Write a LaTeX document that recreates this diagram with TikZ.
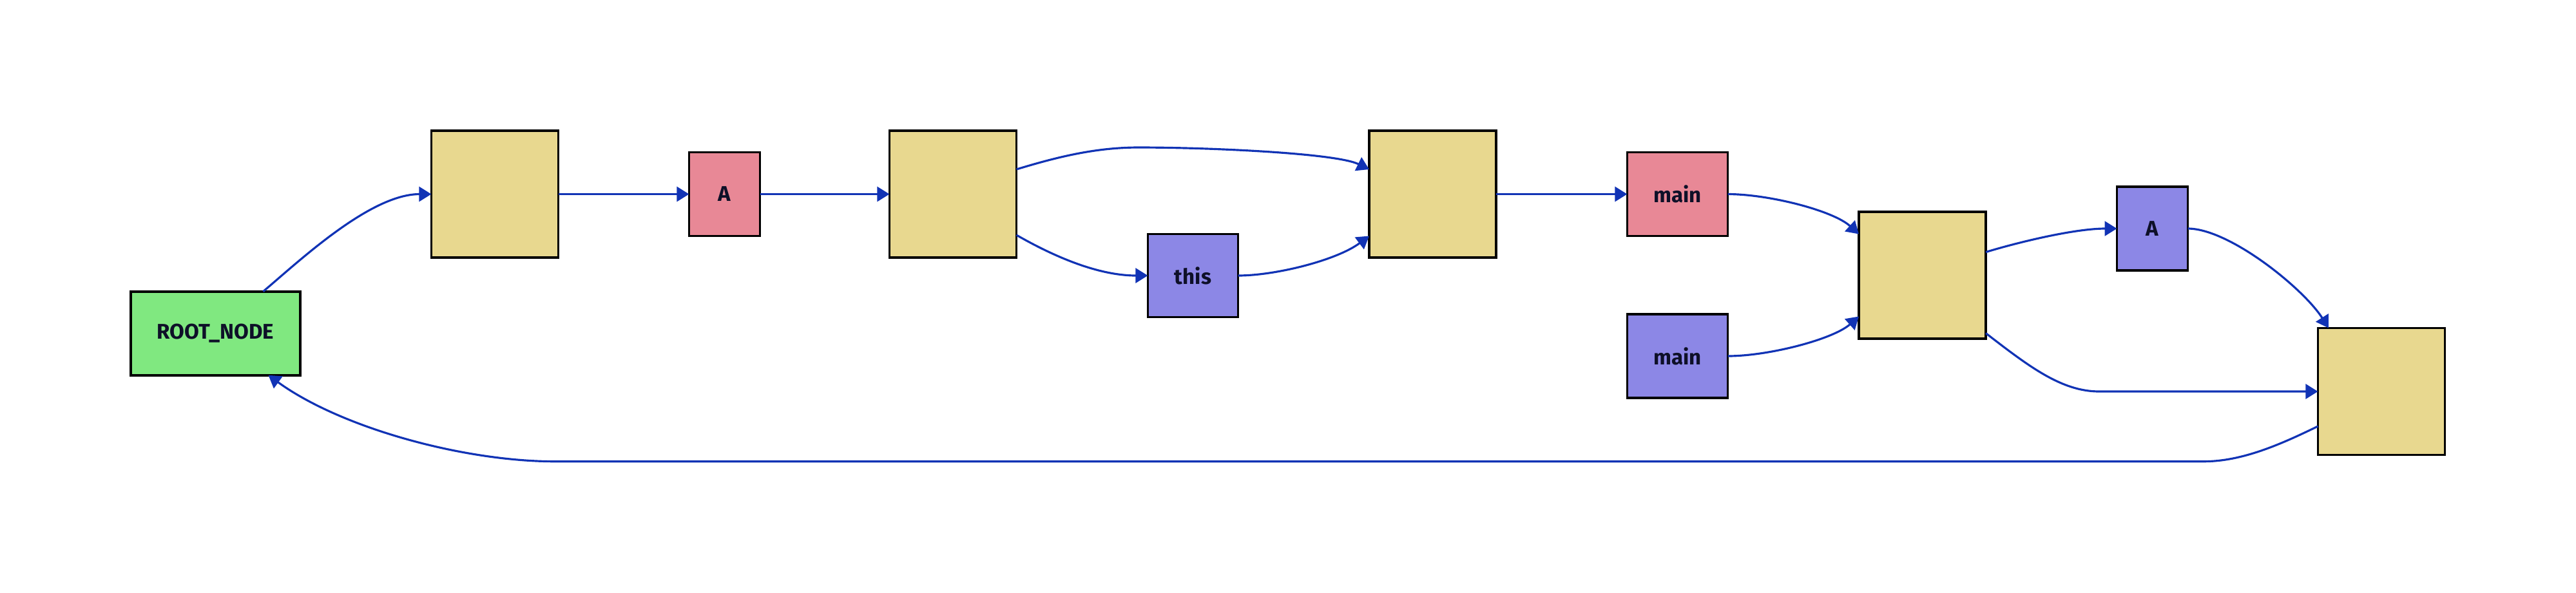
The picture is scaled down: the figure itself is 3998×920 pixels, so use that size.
\documentclass[tikz,border=0pt]{standalone}
\usepackage{fontspec}
\setmainfont{Fira Sans}
\usetikzlibrary{arrows.meta,calc}
\definecolor{edgeblue}{RGB}{17,51,181}
\definecolor{boxyellow}{RGB}{232,216,143}
\definecolor{boxpink}{RGB}{232,136,150}
\definecolor{boxpurple}{RGB}{140,135,230}
\definecolor{boxgreen}{RGB}{128,232,128}
\definecolor{txt}{RGB}{14,16,40}
\begin{document}
\begin{tikzpicture}[x=0.01cm,y=-0.01cm,
  box/.style={draw=black,line width=1.05pt,inner sep=0pt,outer sep=0pt,
    font=\fontsize{9.4}{11}\selectfont\bfseries,text=txt},
  bigbox/.style={box,fill=boxyellow,minimum width=1.97cm,minimum height=1.97cm},
  pinkbox/.style={box,fill=boxpink},
  purplebox/.style={box,fill=boxpurple},
  rootbox/.style={box,fill=boxgreen},
  edge/.style={draw=edgeblue,line width=0.9pt,-{Triangle[length=5.4pt,width=6.5pt]}}]
\useasboundingbox (0,0) rectangle (3998,920);
\node[rootbox,minimum width=2.63cm,minimum height=1.30cm] (root) at (334.5,517.7) {ROOT\_NODE};
\node[bigbox] (b1) at (768,301.5) {};
\node[pinkbox,minimum width=1.10cm,minimum height=1.30cm] (A1) at (1124.5,301.5) {A};
\node[bigbox] (b2) at (1479,301.5) {};
\node[purplebox,minimum width=1.40cm,minimum height=1.29cm] (this) at (1851.5,428) {this};
\node[bigbox] (b3) at (2223.5,301.5) {};
\node[pinkbox,minimum width=1.56cm,minimum height=1.30cm] (main1) at (2603.5,301.5) {main};
\node[purplebox,minimum width=1.56cm,minimum height=1.30cm] (main2) at (2603.5,553) {main};
\node[bigbox] (b4) at (2983.5,427.5) {};
\node[purplebox,minimum width=1.10cm,minimum height=1.30cm] (A2) at (3340.5,355) {A};
\node[bigbox] (b5) at (3696,608) {};

\draw[edge] ($(root.north)+(74,0)$) .. controls (466,404) and (575,301.5) .. (b1.west);
\draw[edge] (b1.east) -- (A1.west);
\draw[edge] (A1.east) -- (b2.west);
\draw[edge] ($(b2.east)+(0,-38.5)$) .. controls (1640,244) and (1700,229) .. (1767,229)
  .. controls (1880,229) and (2074,238) .. ($(b3.west)+(0,-38.5)$);
\draw[edge] ($(b2.east)+(0,63.5)$) .. controls (1628,394) and (1700,428) .. (this.west);
\draw[edge] (this.east) .. controls (1980,428) and (2075,404) .. ($(b3.west)+(0,65)$);
\draw[edge] (b3.east) -- (main1.west);
\draw[edge] (main1.east) .. controls (2745,301.5) and (2845,327) .. ($(b4.west)+(0,-64)$);
\draw[edge] (main2.east) .. controls (2745,553) and (2845,527) .. ($(b4.west)+(0,64)$);
\draw[edge] ($(b4.east)+(0,-36)$) .. controls (3133,376) and (3220,355) .. (A2.west);
\draw[edge] (A2.east) .. controls (3460,355) and (3575,448) .. ($(b5.north)+(-82,0)$);
\draw[edge] ($(b4.east)+(0,90)$) .. controls (3150,570) and (3200,608) .. (3258,608) -- (b5.west);
\draw[edge] ($(b5.west)+(0,54)$) .. controls (3540,690) and (3480,716.7) .. (3420,716.7)
  -- (862,716.7) .. controls (720,716.7) and (530,665) .. ($(root.south)+(82,0)$);
\end{tikzpicture}
\end{document}
